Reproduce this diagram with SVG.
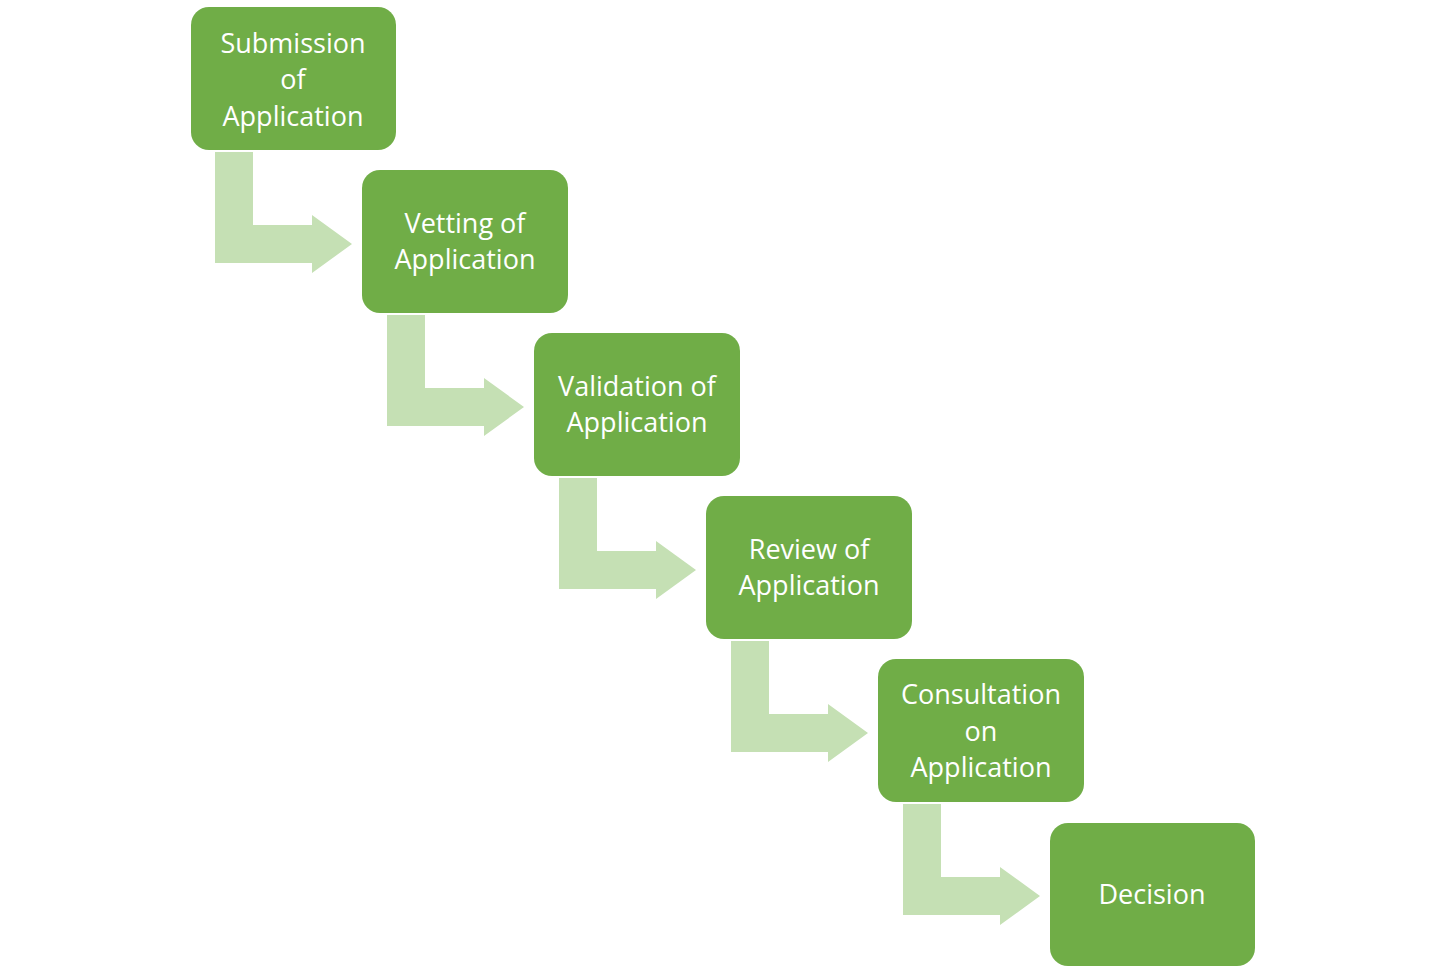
<svg xmlns="http://www.w3.org/2000/svg" width="1446" height="973" viewBox="0 0 1446 973">
<style>
.b{fill:#70ad47}
.a{fill:#c5e0b4}
text{font-family:"Open Sans","Liberation Sans",sans-serif;font-size:27px;fill:#fff;text-anchor:middle;dominant-baseline:central}
</style>
<defs><path id="arr" d="M215,152 L253,152 L253,225 L312,225 L312,215 L352,244 L312,273 L312,263 L215,263 Z"/></defs>
<rect width="1446" height="973" fill="#fff"/>
<g id="connectors" class="a">
<use href="#arr"/>
<use href="#arr" transform="translate(172,163)"/>
<use href="#arr" transform="translate(344,326)"/>
<use href="#arr" transform="translate(516,489)"/>
<use href="#arr" transform="translate(688,652)"/>
</g>
<g id="n1"><rect class="b" x="191" y="7" width="205" height="143" rx="18"/><text x="293" y="42">Submission</text><text x="293" y="78">of</text><text x="293" y="115">Application</text></g>
<g id="n2"><rect class="b" x="362" y="170" width="206" height="143" rx="18"/><text x="465" y="222">Vetting of</text><text x="465" y="258">Application</text></g>
<g id="n3"><rect class="b" x="534" y="333" width="206" height="143" rx="18"/><text x="637" y="385">Validation of</text><text x="637" y="421">Application</text></g>
<g id="n4"><rect class="b" x="706" y="496" width="206" height="143" rx="18"/><text x="809" y="548">Review of</text><text x="809" y="584">Application</text></g>
<g id="n5"><rect class="b" x="878" y="659" width="206" height="143" rx="18"/><text x="981" y="693">Consultation</text><text x="981" y="730">on</text><text x="981" y="766">Application</text></g>
<g id="n6"><rect class="b" x="1050" y="823" width="205" height="143" rx="18"/><text x="1152" y="893">Decision</text></g>
</svg>
